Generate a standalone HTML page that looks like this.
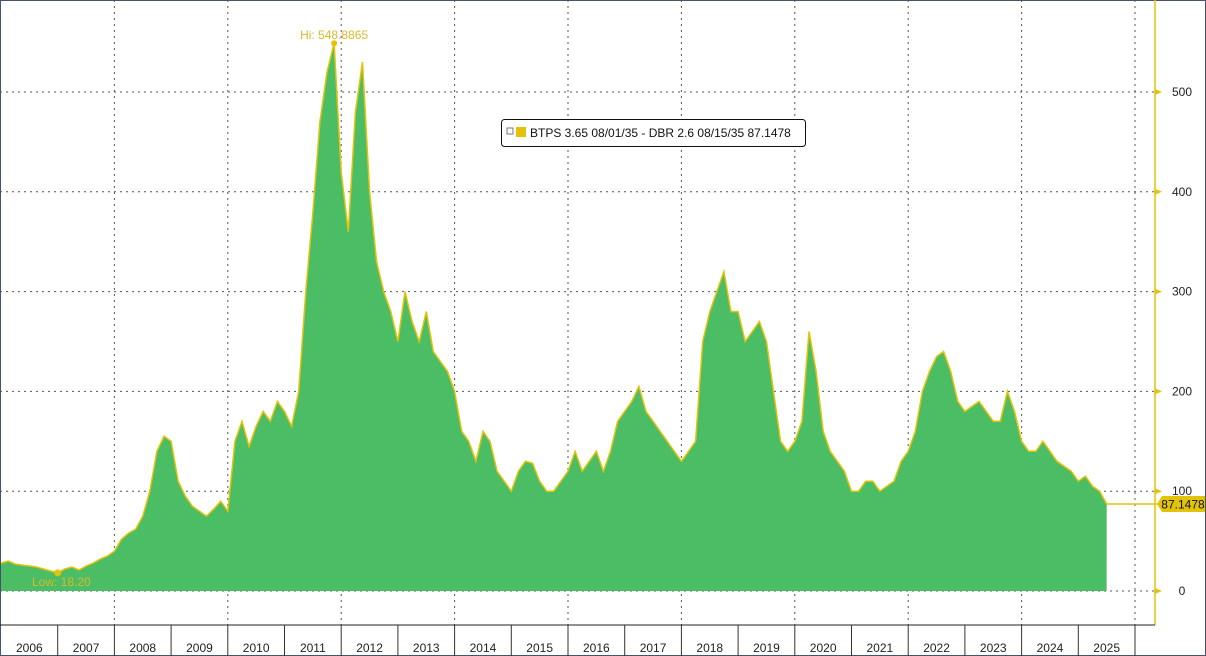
<!DOCTYPE html>
<html><head><meta charset="utf-8"><style>
body{margin:0;background:#fff;}
svg{display:block;font-family:"Liberation Sans",sans-serif;}
</style></head><body>
<svg id="chart" width="1206" height="656"></svg>
<script>
const years=[2006,2007,2008,2009,2010,2011,2012,2013,2014,2015,2016,2017,2018,2019,2020,2021,2022,2023,2024,2025];
const yTicks=[0,100,200,300,400,500];
const values=[
28,30,27,26,25,24,22,20,
18.2,22,24,21,25,28,32,35,
40,52,58,62,75,100,140,155,
150,110,95,85,80,75,82,90,
80,150,170,145,165,180,170,190,
180,165,200,300,380,470,520,548.9,
420,360,480,530,400,330,300,280,
250,300,270,250,280,240,230,220,
200,160,150,130,160,150,120,110,
100,120,130,128,110,100,100,110,
120,140,120,130,140,120,140,170,
180,190,205,180,170,160,150,140,
130,140,150,250,280,300,320,280,
280,250,260,270,250,200,150,140,
150,170,260,220,160,140,130,120,
100,100,110,110,100,105,110,130,
140,160,200,220,235,240,220,190,
180,185,190,180,170,170,200,180,
150,140,140,150,140,130,125,120,
110,115,105,100,87.1478];
const x0=1,yearW=56.7,y0=591,pxPerUnit=0.998;
const X=t=>x0+t*yearW;
const Y=v=>y0-v*pxPerUnit;
const svg=document.getElementById('chart');
const NS='http://www.w3.org/2000/svg';
function el(tag,attrs,parent){const e=document.createElementNS(NS,tag);for(const k in attrs)e.setAttribute(k,attrs[k]);(parent||svg).appendChild(e);return e;}
let e=el('rect',{x:0.5,y:0.5,width:1205,height:655,fill:'none',stroke:'#44546a'});


yTicks.forEach(v=>{
 let g=el('line',{x1:0,x2:1155,y1:Y(v),y2:Y(v),stroke:'#555','stroke-dasharray':'2,4','stroke-width':1});
 
 
});
for(let i=2;i<=20;i+=2){
 let g=el('line',{x1:X(i),x2:X(i),y1:0,y2:625,stroke:'#555','stroke-dasharray':'2,4'});
 
 
}
const n=values.length;
const tx=i=>X(i/8);
let d='M'+tx(0)+','+Y(0);
values.forEach((v,i)=>{d+=' L'+tx(i).toFixed(1)+','+Y(v).toFixed(1);});
d+=' L'+tx(n-1)+','+Y(0)+' Z';
let area=el('path',{d:d,fill:'#4bbd65'});


let ld='';values.forEach((v,i)=>{ld+=(i?' L':'M')+tx(i).toFixed(1)+','+Y(v).toFixed(1);});
let line=el('path',{d:ld,fill:'none',stroke:'#e3c30a','stroke-width':1.5});


let hiI=values.indexOf(Math.max(...values)), loI=values.indexOf(Math.min(...values));
let hd=el('circle',{cx:tx(hiI),cy:Y(values[hiI]),r:3,fill:'#e3c30a'});


let ht=el('text',{x:tx(hiI),y:39,'text-anchor':'middle','font-size':12,fill:'#d9b92a'});ht.textContent='Hi: 548.8865';


let lc=el('circle',{cx:tx(loI),cy:Y(values[loI]),r:3.5,fill:'#e3c30a'});


let lt=el('text',{x:32,y:586,'font-size':12,fill:'#d9b92a'});lt.textContent='Low: 18.20';


let ax=el('line',{x1:1155,x2:1155,y1:0,y2:625,stroke:'#e3c30a','stroke-width':1.5});


yTicks.forEach(v=>{
 let t=el('path',{d:`M1155,${Y(v)-3} L1162,${Y(v)} L1155,${Y(v)+3}Z`,fill:'#e3c30a'});
 
 
 let l=el('text',{x:1182,y:Y(v)+4,'text-anchor':'middle','font-size':12,fill:'#222'});l.textContent=v;
 
 
});
let bx=el('line',{x1:0,x2:1155,y1:625,y2:625,stroke:'#222'});


years.forEach((yr,i)=>{
 let s=el('line',{x1:X(i+1),x2:X(i+1),y1:625,y2:656,stroke:'#333'});
 
 
 let t=el('text',{x:X(i+0.5),y:652,'text-anchor':'middle','font-size':12,fill:'#222'});t.textContent=yr;
 
 
});
let lastY=Y(values[n-1]);
let ll=el('line',{x1:tx(n-1),x2:1158,y1:lastY,y2:lastY,stroke:'#e3c30a','stroke-width':1.5});


let bd=el('path',{d:`M1157,${lastY} L1162,${lastY-8} L1205,${lastY-8} L1205,${lastY+8} L1162,${lastY+8}Z`,fill:'#e3c30a'});


let bt=el('text',{x:1183,y:lastY+4.5,'text-anchor':'middle','font-size':12,fill:'#111'});bt.textContent='87.1478';


let lg=el('g',{});


el('rect',{x:501.5,y:119.5,width:304,height:27,rx:3,fill:'#fff',stroke:'#111'},lg);
el('rect',{x:507,y:128,width:6,height:6,fill:'none',stroke:'#777'},lg);
el('rect',{x:516,y:127,width:10,height:10,fill:'#e3c30a'},lg);
let lgt=el('text',{x:530,y:137,'font-size':12,fill:'#111'},lg);lgt.textContent='BTPS 3.65 08/01/35 - DBR 2.6 08/15/35 87.1478';


</script>
</body></html>
